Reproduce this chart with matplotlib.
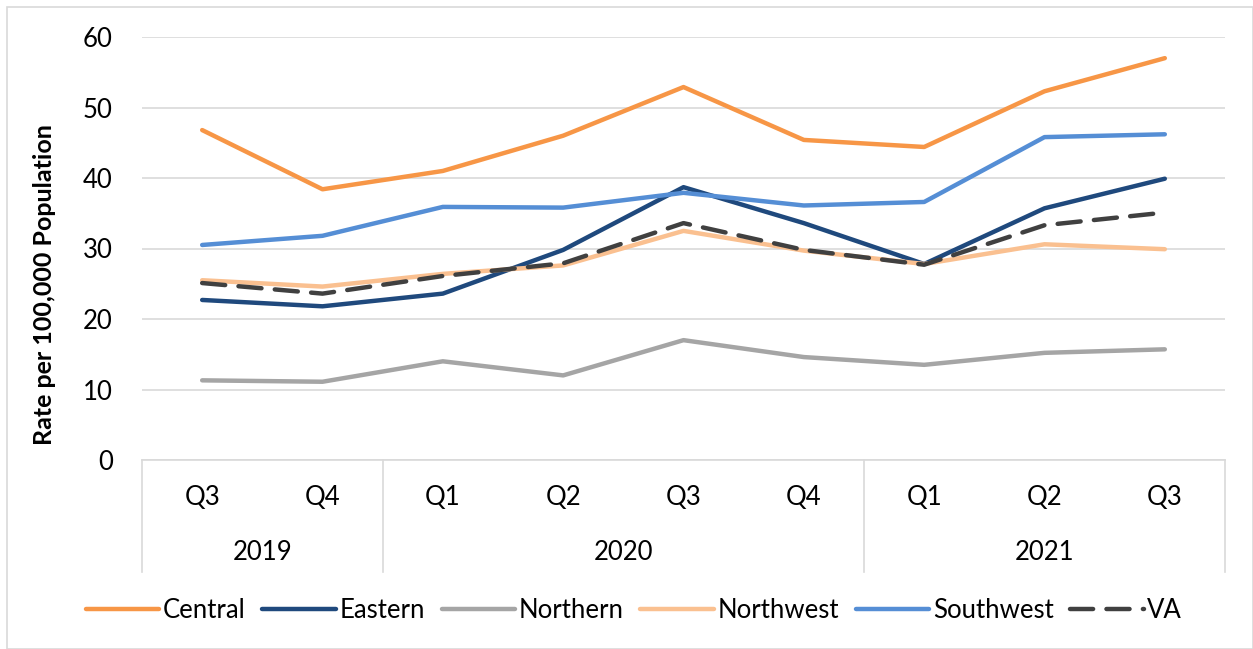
import matplotlib
matplotlib.use("Agg")
import matplotlib.pyplot as plt
from matplotlib.lines import Line2D
from matplotlib.patches import Rectangle

plt.rcParams['font.family'] = ['Lato', 'DejaVu Sans']

quarters = ["Q3", "Q4", "Q1", "Q2", "Q3", "Q4", "Q1", "Q2", "Q3"]
years = ["2019", "2020", "2021"]
year_spans = [(0, 1), (2, 5), (6, 8)]

central = [46.8, 38.4, 41.0, 46.0, 52.9, 45.4, 44.4, 52.3, 57.0]
eastern = [22.7, 21.8, 23.6, 29.8, 38.7, 33.6, 27.8, 35.7, 39.9]
northern = [11.3, 11.1, 14.0, 12.0, 17.0, 14.6, 13.5, 15.2, 15.7]
northwest = [25.5, 24.6, 26.4, 27.6, 32.5, 29.7, 27.8, 30.6, 29.9]
southwest = [30.5, 31.8, 35.9, 35.8, 37.9, 36.1, 36.6, 45.8, 46.2]
va = [25.1, 23.6, 26.1, 27.9, 33.6, 29.8, 27.7, 33.3, 35.1]

series = [
    ("Central", central, "#F79646", "-"),
    ("Eastern", eastern, "#1F497D", "-"),
    ("Northern", northern, "#A5A5A5", "-"),
    ("Northwest", northwest, "#FAC090", "-"),
    ("Southwest", southwest, "#558ED5", "-"),
    ("VA", va, "#404040", "--"),
]

W, H = 1253, 649
fig = plt.figure(figsize=(W / 100, H / 100), dpi=100)
fig.patches.append(Rectangle((7 / W, 0), (W - 7) / W, (H - 7) / H, transform=fig.transFigure,
                             fill=False, edgecolor="#D9D9D9", linewidth=1.2))

FS = 18.5
left, right, top, bottom = 142, 1225, 37, 460
ax = fig.add_axes([left / W, 1 - bottom / H, (right - left) / W, (bottom - top) / H])
x = list(range(len(quarters)))
handles = []
for name, vals, color, ls in series:
    if ls == "--":
        ln, = ax.plot(x, vals, color=color, linewidth=3.2, linestyle=(0, (5.2, 3.0)),
                      solid_capstyle="round", dash_capstyle="round", zorder=3)
    else:
        ln, = ax.plot(x, vals, color=color, linewidth=3.2, solid_capstyle="round", zorder=3)
    handles.append(ln)

ax.set_xlim(-0.5, len(quarters) - 0.5)
ax.set_ylim(0, 60)
ax.set_yticks([0, 10, 20, 30, 40, 50, 60])
ax.yaxis.grid(True, color="#D9D9D9", linewidth=1.2)
ax.set_axisbelow(True)
for s in ["top", "right", "left"]:
    ax.spines[s].set_visible(False)
ax.spines["bottom"].set_color("#D9D9D9")
ax.spines["bottom"].set_linewidth(1.2)
ax.tick_params(axis="y", length=0, pad=21, labelsize=FS, labelcolor="#000000")
ax.set_xticks([])
ax.tick_params(axis="x", length=0)

# category labels (two levels)
tr = ax.get_xaxis_transform()
for i, q in enumerate(quarters):
    ax.text(i, -0.088, q, transform=tr, ha="center", va="center", fontsize=FS)
sep_bottom = -(572 - 460) / (bottom - top)
for (a, b), yr in zip(year_spans, years):
    ax.text((a + b) / 2, -0.218, yr, transform=tr, ha="center", va="center", fontsize=FS)
for xb in [-0.5, 1.5, 5.5, 8.5]:
    ax.add_line(Line2D([xb, xb], [0, sep_bottom], transform=tr, color="#D9D9D9",
                       linewidth=1.2, clip_on=False))

fig.text(45 / W, 1 - 285 / H, "Rate per 100,000 Population", rotation=90, ha="center",
         va="center", fontsize=18, fontweight="bold")

fig.legend(handles, [s[0] for s in series], loc="center", bbox_to_anchor=(634 / W, 1 - 610 / H),
           ncol=6, frameon=False, fontsize=FS, handlelength=2.85, columnspacing=0.65,
           handletextpad=0.15)

fig.savefig("out.png", dpi=100)
